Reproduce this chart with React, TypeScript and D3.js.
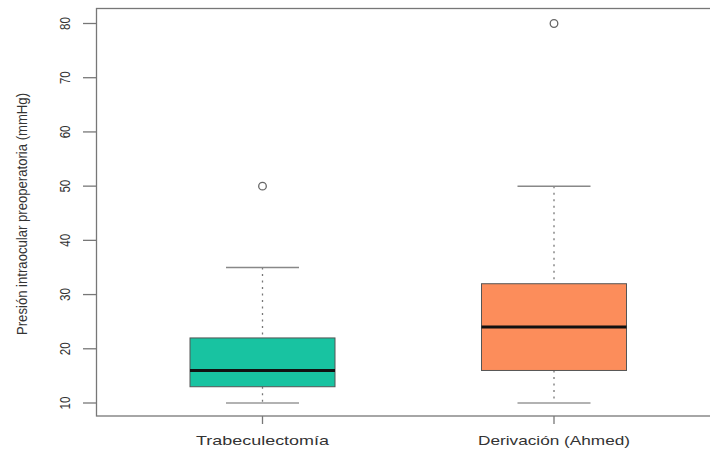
import React from "react";
import * as d3 from "d3";

const categories = ["Trabeculectomía", "Derivación (Ahmed)"];
const lowerWhisker = [10, 10];
const q1 = [13, 16];
const medians = [16, 24];
const q3 = [22, 32];
const upperWhisker = [35, 50];
const outliers = [[50], [80]];
const colors = ["#18C3A1", "#FC8D5B"];
const yTicks = [10, 20, 30, 40, 50, 60, 70, 80];
const yLabel = "Presión intraocular preoperatoria (mmHg)";

export default function App() {
  const W = 710, H = 453;
  const frame = { left: 96.5, top: 8.5, right: 740, bottom: 416 };
  const y = d3.scaleLinear().domain([10, 80]).range([403, 23.5]);
  const x = d3.scalePoint<string>().domain(categories).range([262.5, 554]);
  const boxW = 145;
  const capW = 73;
  const txt = "#333";
  return (
    <svg width={W} height={H} style={{ position: "absolute", left: 0, top: 0, background: "#fff" }}
      fontFamily="'Liberation Sans', Arial, sans-serif">
      <rect x={frame.left} y={frame.top} width={frame.right - frame.left} height={frame.bottom - frame.top}
        fill="none" stroke="#777" strokeWidth={1.3} />
      {yTicks.map((t) => (
        <g key={t}>
          <line x1={83} x2={96} y1={y(t)} y2={y(t)} stroke="#777" strokeWidth={1.3} />
          <text transform={`translate(70,${y(t)}) scale(1.25,1) rotate(-90)`} textAnchor="middle" fontSize={11.5} fill={txt}>{t}</text>
        </g>
      ))}
      <text transform={`translate(27,${214}) scale(1.25,1) rotate(-90)`} textAnchor="middle" fontSize={11.5} fill={txt}
        textLength={242} lengthAdjust="spacingAndGlyphs">{yLabel}</text>
      {categories.map((c, i) => {
        const cx = x(c)!;
        return (
          <g key={c}>
            <line x1={cx} x2={cx} y1={frame.bottom} y2={frame.bottom + 8} stroke="#777" strokeWidth={1.3} />
            <text x={cx} y={445} textAnchor="middle" fontSize={13.5} fill={txt}
              textLength={i === 0 ? 133 : 152} lengthAdjust="spacingAndGlyphs">{c}</text>
            <line x1={cx} x2={cx} y1={y(upperWhisker[i])} y2={y(q3[i])} stroke="#777" strokeWidth={1.3} strokeDasharray="2,4.5" />
            <line x1={cx} x2={cx} y1={y(q1[i])} y2={y(lowerWhisker[i])} stroke="#777" strokeWidth={1.3} strokeDasharray="2,4.5" />
            <line x1={cx - capW / 2} x2={cx + capW / 2} y1={y(upperWhisker[i])} y2={y(upperWhisker[i])} stroke="#888" strokeWidth={1.5} />
            <line x1={cx - capW / 2} x2={cx + capW / 2} y1={y(lowerWhisker[i])} y2={y(lowerWhisker[i])} stroke="#999" strokeWidth={1.5} />
            <rect x={cx - boxW / 2} y={y(q3[i])} width={boxW} height={y(q1[i]) - y(q3[i])}
              fill={colors[i]} stroke="#555" strokeWidth={1} />
            <line x1={cx - boxW / 2} x2={cx + boxW / 2} y1={y(medians[i])} y2={y(medians[i])} stroke="#111" strokeWidth={3} />
            {outliers[i].map((o, j) => (
              <circle key={j} cx={cx} cy={y(o)} r={3.8} fill="none" stroke="#666" strokeWidth={1.3} />
            ))}
          </g>
        );
      })}
    </svg>
  );
}
